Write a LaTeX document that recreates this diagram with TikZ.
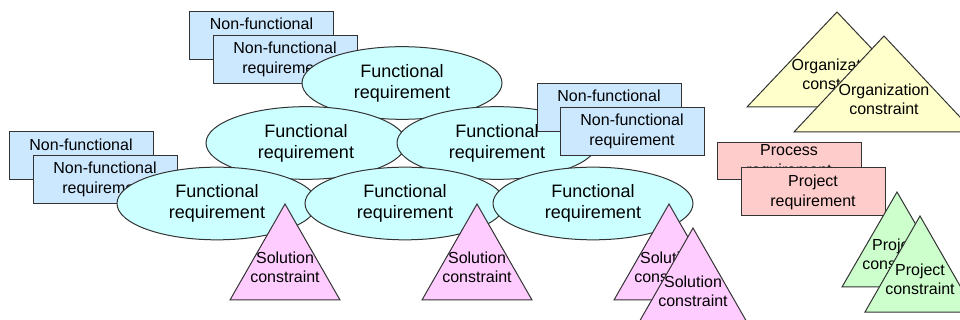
\documentclass[tikz,border=0pt]{standalone}
\usepackage{fontspec}
\setmainfont{Liberation Sans}
\usetikzlibrary{shapes.geometric}
\definecolor{frfill}{HTML}{CCFFFF}
\definecolor{nffill}{HTML}{CCE8FF}
\definecolor{solfill}{HTML}{FFCCFF}
\definecolor{orgfill}{HTML}{FFFFCC}
\definecolor{procfill}{HTML}{FFCCCC}
\definecolor{projfill}{HTML}{CCFFCC}
\definecolor{edgecol}{HTML}{333333}
\tikzset{
  shapeline/.style={draw=edgecol, line width=0.75pt},
  frnode/.style={shapeline, ellipse, fill=frfill, minimum width=150pt, minimum height=54.5pt,
    inner sep=0pt, align=center, font=\fontsize{13.5}{15.75}\selectfont},
  boxnode/.style={shapeline, rectangle, minimum width=108pt, minimum height=36pt,
    inner sep=0pt, align=center, font=\fontsize{12}{15}\selectfont},
  nfbox/.style={boxnode, fill=nffill},
  procbox/.style={boxnode, fill=procfill},
  tritext/.style={inner sep=0pt, align=center, font=\fontsize{12}{14.25}\selectfont},
}
% #1 name, #2 apex x, #3 apex y, #4 half width, #5 height, #6 fill, #7 text
\newcommand{\trishape}[7]{%
  \filldraw[shapeline, fill=#6] (#2,#3) -- ++(#4,#5) -- ++(-2*#4,0) -- cycle;
  \node[tritext] (#1) at (#2,{#3+0.66*#5}) {#7};
}
\begin{document}
\begin{tikzpicture}[x=0.75pt, y=-0.75pt]
\useasboundingbox (0,0) rectangle (960,320);
\clip (0,0) rectangle (960,320);
\fill[white] (0,0) rectangle (960,320);

% top-left non-functional pair
\node[nfbox, minimum height=36.5pt] (nfa1) at (261.5,35.5) {Non-functional\\requirement};
\node[nfbox, minimum height=35.5pt] (nfa2) at (285,59.5) {Non-functional\\requirement};

% top ellipse
\node[frnode] (fr1) at (402,83) {Functional\\requirement};
% row 2
\node[frnode] (fr2) at (306,143) {Functional\\requirement};
\node[frnode] (fr3) at (497,143) {Functional\\requirement};

% right non-functional pair
\node[nfbox, minimum height=36.5pt] (nfb1) at (609,107.5) {Non-functional\\requirement};
\node[nfbox, minimum height=36.5pt] (nfb2) at (632,131.5) {Non-functional\\requirement};

% left non-functional pair
\node[nfbox] (nfc1) at (81,156) {Non-functional\\requirement};
\node[nfbox, minimum height=35.5pt] (nfc2) at (105,179.5) {Non-functional\\requirement};

% row 3
\node[frnode] (fr4) at (217,203.5) {Functional\\requirement};
\node[frnode] (fr5) at (405,203.5) {Functional\\requirement};
\node[frnode] (fr6) at (593,203.5) {Functional\\requirement};

% solution constraints
\trishape{sc1}{285}{204}{55}{96}{solfill}{Solution\\constraint}
\trishape{sc2}{477}{204}{55}{96}{solfill}{Solution\\constraint}
\trishape{sc3}{669}{204}{55}{96}{solfill}{Solution\\constraint}
\trishape{sc4}{693}{228}{55}{96}{solfill}{Solution\\constraint}

% organization constraints
\trishape{oc1}{837}{12}{90}{95}{orgfill}{Organization\\constraint}
\trishape{oc2}{884}{36}{90}{96}{orgfill}{Organization\\constraint}

% process / project requirement
\node[procbox, minimum height=27.75pt] (pr1) at (789,161.5) {Process\\requirement};
\node[procbox] (pr2) at (813,192) {Project\\requirement};

% project constraints
\trishape{pc1}{897}{192}{55}{95}{projfill}{Project\\constraint}
\trishape{pc2}{920}{216}{55}{96}{projfill}{Project\\constraint}
\end{tikzpicture}
\end{document}
